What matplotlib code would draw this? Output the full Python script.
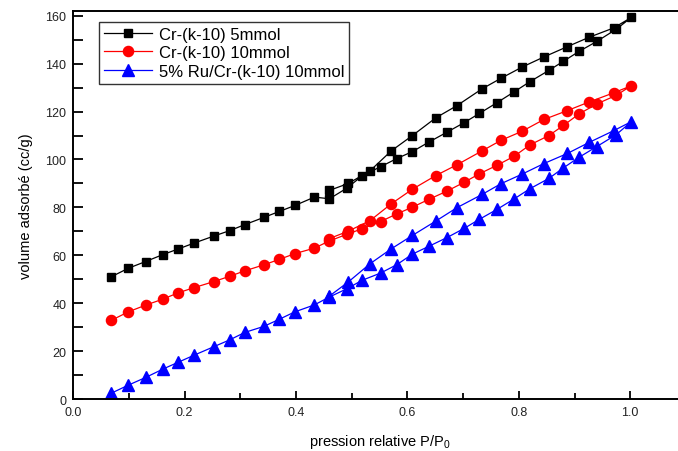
import matplotlib
matplotlib.use("Agg")
import matplotlib.pyplot as plt
from matplotlib.ticker import MultipleLocator, FormatStrFormatter

plt.rcParams['font.family'] = ['Liberation Sans', 'DejaVu Sans']
plt.rcParams['mathtext.fontset'] = 'custom'
plt.rcParams['mathtext.rm'] = 'Liberation Sans'
plt.rcParams['mathtext.it'] = 'Liberation Sans'

# Adsorption branch pressures
p_ads = [0.068, 0.099, 0.130, 0.161, 0.188, 0.217, 0.252, 0.281, 0.308, 0.342,
         0.370, 0.398, 0.433, 0.460, 0.491, 0.519, 0.552, 0.581, 0.609, 0.638,
         0.671, 0.702, 0.729, 0.761, 0.792, 0.820, 0.854, 0.880, 0.908, 0.940,
         0.975, 1.002]
# Desorption branch pressures
p_des = [0.970, 0.926, 0.887, 0.845, 0.806, 0.768, 0.734, 0.689, 0.651, 0.609,
         0.571, 0.533, 0.494, 0.460]

cr5_ads = [51.0, 54.6, 57.4, 60.3, 62.6, 65.1, 68.0, 70.3, 72.8, 75.8,
           78.3, 80.8, 84.3, 83.6, 88.0, 93.2, 97.0, 100.4, 103.3, 107.2,
           111.4, 115.4, 119.2, 123.75, 128.3, 132.5, 137.2, 141.0, 145.1, 149.3,
           154.4, 159.3]
cr5_des = [154.9, 151.0, 147.1, 142.8, 138.6, 133.9, 129.5, 122.5, 117.4, 110.0,
           103.6, 95.3, 90.0, 87.1]

cr10_ads = [32.8, 36.4, 39.2, 41.7, 44.3, 46.5, 49.0, 51.25, 53.5, 56.0,
            58.3, 60.7, 63.0, 66.0, 68.75, 71.1, 74.1, 77.3, 80.1, 83.3,
            86.8, 90.5, 94.0, 97.6, 101.4, 106.1, 110.0, 114.2, 119.0, 123.2,
            126.8, 130.8]
cr10_des = [127.8, 124.0, 120.4, 116.7, 111.8, 108.0, 103.6, 97.8, 93.3, 87.6,
            81.5, 74.5, 70.1, 67.0]

ru_ads = [2.4, 5.8, 9.0, 12.5, 15.3, 18.3, 21.8, 24.7, 27.8, 30.3,
          33.3, 36.4, 39.3, 42.6, 46.0, 49.6, 52.6, 56.1, 60.5, 63.7,
          67.4, 71.25, 75.0, 79.2, 83.6, 87.8, 92.1, 96.5, 100.9, 105.4,
          110.4, 115.8]
ru_des = [112.0, 107.1, 102.5, 98.3, 93.9, 89.9, 85.4, 79.9, 74.3, 68.3,
          62.7, 56.5, 48.9, 43.0]

labels = ['Cr-(k-10) 5mmol', 'Cr-(k-10) 10mmol', '5% Ru/Cr-(k-10) 10mmol']

fig = plt.figure(figsize=(6.78, 4.52), dpi=100)
ax = fig.add_axes([0.108, 0.115, 0.9037, 0.8585])

series = [
    (cr5_ads, cr5_des, 'black', 's', 6.3),
    (cr10_ads, cr10_des, 'red', 'o', 7.3),
    (ru_ads, ru_des, 'blue', '^', 8.0),
]
for (ya, yd, c, m, ms), lab in zip(series, labels):
    ax.plot(p_ads + p_des, ya + yd, color=c, marker=m, markersize=ms,
            markeredgecolor=c, markerfacecolor=c, linewidth=0.9, label=lab)

ax.set_xlim(0, 1.1)
ax.set_ylim(0, 162)
ax.xaxis.set_major_locator(MultipleLocator(0.2))
ax.xaxis.set_minor_locator(MultipleLocator(0.1))
ax.xaxis.set_major_formatter(FormatStrFormatter('%.1f'))
ax.yaxis.set_major_locator(MultipleLocator(20))
ax.yaxis.set_minor_locator(MultipleLocator(10))
ax.tick_params(which='both', direction='in', top=False, right=False,
               labelsize=9, width=1.3, pad=5, labelcolor='#222222')
ax.tick_params(axis='x', which='major', length=6)
ax.tick_params(axis='x', which='minor', length=4)
ax.tick_params(axis='y', which='both', length=7)
for s in ax.spines.values():
    s.set_linewidth(1.4)

ax.set_xlabel('pression relative P/P$_0$', fontsize=10.5, labelpad=10)
ax.set_ylabel('volume adsorbé (cc/g)', fontsize=10.5, labelpad=9)

leg = ax.legend(loc='upper left', bbox_to_anchor=(0.146, 0.95),
                bbox_transform=fig.transFigure, borderaxespad=0,
                frameon=True, fancybox=False, fontsize=12,
                handlelength=2.9, handletextpad=0.4, borderpad=0.3,
                labelspacing=0.22)
leg.get_frame().set_edgecolor('black')
leg.get_frame().set_linewidth(1.0)

fig.savefig('out.png', dpi=100)
